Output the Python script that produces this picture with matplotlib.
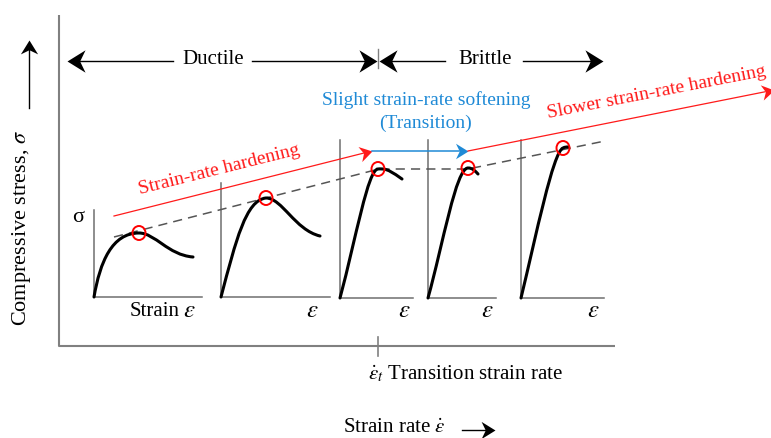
import numpy as np
import matplotlib.pyplot as plt
from matplotlib.patches import Ellipse, PathPatch
from matplotlib.path import Path
from matplotlib.markers import MarkerStyle
from matplotlib.transforms import Affine2D

plt.rcParams['font.family'] = ['Liberation Serif', 'DejaVu Serif']
plt.rcParams['mathtext.fontset'] = 'stix'

# five stress-strain sketches, ordered by increasing strain rate (pixel coords)
origins = [(94, 297), (221, 297), (340, 298), (428, 298), (521, 298)]
axis_tops = [210, 183, 140, 140, 140]
axis_ends = [202, 330, 413, 496, 604]
# loading branch: two bezier control points per curve, ending at the peak
rise_ctrl = [[(100, 262), (112, 233)],
             [(236, 240), (246, 200)],
             [(356, 238), (368, 169)],
             [(443, 244), (456, 168)],
             [(536, 236), (553, 152)]]
peaks = [(139, 233), (266, 198), (378, 169), (468, 168), (563, 148)]
# post-peak branch: control points and end point
fall_ctrl = [[(155, 233), (168, 255)],
             [(282, 198), (295, 230)],
             [(388, 168), (393, 173)],
             [(473, 168), (475, 171)],
             [(565, 147), (566, 147)]]
fall_end = [(193, 257), (320, 236), (402, 179), (478, 174), (568, 147)]
eps_pos = [(189, 311), (312, 311), (404, 311), (487, 311), (593, 311)]

# strength trend through the peaks
trend_x = [114, 379, 468, 605]
trend_y = [237, 169, 169, 141]

fig = plt.figure(figsize=(7.71, 4.38), dpi=100)
ax = fig.add_axes([0, 0, 1, 1])
ax.set_xlim(0, 771)
ax.set_ylim(438, 0)
ax.axis('off')

grey = '#808080'
red = '#ff1a1a'
blue = '#1f8ad6'

# notched arrowhead, tip at the origin pointing along +x
stealth = Path([(0, 0), (-1, 0.62), (-0.7, 0), (-1, -0.62), (0, 0)],
               [Path.MOVETO, Path.LINETO, Path.LINETO, Path.LINETO, Path.CLOSEPOLY])


def arrow(p0, p1, color='black', lw=1.0, size=22):
    (x0, y0), (x1, y1) = p0, p1
    ang = np.degrees(np.arctan2(-(y1 - y0), x1 - x0))
    L = np.hypot(x1 - x0, y1 - y0)
    back = size * 0.5 * 100 / 72 * 0.72
    xe = x1 - (x1 - x0) / L * back
    ye = y1 - (y1 - y0) / L * back
    ax.plot([x0, xe], [y0, ye], color=color, lw=lw, zorder=3)
    m = MarkerStyle(stealth, transform=Affine2D().rotate_deg(ang))
    ax.plot([x1], [y1], marker=m, ms=size, color=color, mew=0, zorder=3)


# main axes
ax.plot([59, 59, 615], [15, 346, 346], color=grey, lw=1.5, solid_capstyle='butt')
ax.plot([378, 378], [337, 356], color=grey, lw=1.2)

# stress-strain sketches
for i in range(5):
    x0, y0 = origins[i]
    ax.plot([x0, x0, axis_ends[i]], [axis_tops[i], y0, y0], color='#6f6f6f', lw=1.1)
    verts = [origins[i], rise_ctrl[i][0], rise_ctrl[i][1], peaks[i],
             fall_ctrl[i][0], fall_ctrl[i][1], fall_end[i]]
    codes = [Path.MOVETO] + [Path.CURVE4] * 6
    ax.add_patch(PathPatch(Path(verts, codes), fc='none', ec='black', lw=2.2,
                           capstyle='round', zorder=4))
    ax.add_patch(Ellipse(peaks[i], 13, 14, fc='none', ec='red', lw=1.4, zorder=5))
    ax.text(eps_pos[i][0], eps_pos[i][1], "$\\varepsilon$", fontsize=18,
            ha='center', va='center')

ax.text(155, 312, "Strain", fontsize=15, ha='center', va='center')
ax.text(78, 218, "σ", fontsize=16, ha='center', va='center')

# dashed trend of peak stress
ax.plot(trend_x, trend_y, color='#555555', lw=1.1, dashes=(6, 4), zorder=3)

# rate-effect arrows
arrow((114, 216), (372, 151), color=red, lw=0.9, size=18)
arrow((372, 151), (468, 151), color=blue, lw=1.1, size=18)
arrow((468, 151), (774, 90), color=red, lw=0.9, size=18)

ax.text(220, 174, "Strain-rate hardening", color=red, fontsize=14, rotation=14,
        rotation_mode='anchor', ha='center', va='baseline')
ax.text(657, 97, "Slower strain-rate hardening", color=red, fontsize=14, rotation=11,
        rotation_mode='anchor', ha='center', va='baseline')
ax.text(426, 100, "Slight strain-rate softening", color=blue, fontsize=14,
        ha='center', va='center')
ax.text(425, 123, "(Transition)", color=blue, fontsize=14, ha='center', va='center')

# ductile / brittle regimes
arrow((173, 61), (67, 61), size=26)
arrow((252, 61), (377, 61), size=26)
arrow((445, 61), (379, 61), size=26)
arrow((523, 61), (603, 61), size=26)
ax.plot([378, 378], [49, 68], color=grey, lw=1.0)
ax.text(213, 60, "Ductile", fontsize=15, ha='center', va='center')
ax.text(485, 60, "Brittle", fontsize=15, ha='center', va='center')

# axis titles
ax.text(22, 228, "Compressive stress, $\\sigma$", fontsize=16, rotation=90,
        ha='center', va='center')
arrow((29, 108), (29, 40), size=20)
ax.text(368, 374, "$\\dot{\\varepsilon}_t$ Transition strain rate", fontsize=15,
        ha='left', va='center')
ax.text(343, 428, "Strain rate $\\dot{\\varepsilon}$", fontsize=15,
        ha='left', va='center')
arrow((462, 430), (495, 430), size=20)

fig.savefig('out.png', dpi=100)
